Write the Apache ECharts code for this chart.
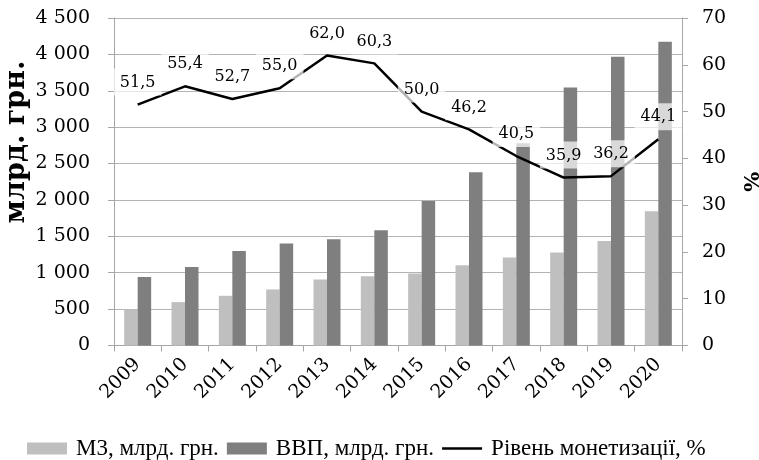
<!DOCTYPE html>
<html>
<head>
<meta charset="utf-8">
<script src="https://cdn.jsdelivr.net/npm/echarts@6/dist/echarts.min.js"></script>
<style>
  html, body { margin: 0; padding: 0; background: #ffffff; }
  #chart { width: 759px; height: 460px; }
</style>
</head>
<body>
<div id="chart"></div>
<script>
// Роки
const years = ['2009', '2010', '2011', '2012', '2013', '2014', '2015', '2016', '2017', '2018', '2019', '2020'];
// Грошова маса М3, млрд. грн.
const m3 = [496, 596, 683, 770, 907, 952, 989, 1103, 1208, 1277, 1436, 1845];
// ВВП, млрд. грн.
const gdp = [942, 1077, 1297, 1400, 1459, 1582, 1984, 2381, 2778, 3545, 3967, 4173];
// Рівень монетизації економіки, %
const monetization = [51.5, 55.4, 52.7, 55.0, 62.0, 60.3, 50.0, 46.2, 40.5, 35.9, 36.2, 44.1];

const seriesNames = ['М3, млрд. грн.', 'ВВП, млрд. грн.', 'Рівень монетизації, %'];
const leftAxisTitle = 'млрд. грн.';
const rightAxisTitle = '%';

const numFont = 'DejaVu Serif';
const textFont = 'Liberation Serif';

// Тисячі відокремлюються пробілом: 4 500
const withSpaces = v => String(v).replace(/\B(?=(\d{3})+(?!\d))/g, ' ');
const commaDecimal = v => v.toFixed(1).replace('.', ',');

const chart = echarts.init(document.getElementById('chart'), null, { renderer: 'canvas' });

chart.setOption({
  backgroundColor: '#ffffff',
  animation: false,
  grid: {
    left: 114, right: 77, top: 18, bottom: 114.5,
    containLabel: false,
    outerBoundsMode: 'none'
  },
  legend: {
    show: true,
    left: 22,
    top: 432,
    itemWidth: 40,
    itemHeight: 12,
    itemGap: 8,
    textStyle: { fontFamily: textFont, fontSize: 23, color: '#000000', padding: [0, 0, 0, 4] },
    data: [
      { name: seriesNames[0], icon: 'rect' },
      { name: seriesNames[1], icon: 'rect' },
      { name: seriesNames[2], icon: 'path://M0,0H40V2.5H0Z' }
    ]
  },
  graphic: [{
    type: 'text',
    x: 17,
    y: 142,
    rotation: Math.PI / 2,
    style: {
      text: leftAxisTitle,
      fontFamily: numFont,
      fontWeight: 'bold',
      fontSize: 27,
      fill: '#000000',
      align: 'center',
      verticalAlign: 'middle'
    }
  }],
  xAxis: {
    type: 'category',
    data: years,
    boundaryGap: true,
    axisLine: { show: true, lineStyle: { color: '#a6a6a6', width: 1 } },
    axisTick: { show: true, length: 6, alignWithLabel: false, lineStyle: { color: '#a6a6a6' } },
    axisLabel: {
      rotate: 45,
      interval: 0,
      margin: 16,
      fontFamily: numFont,
      fontSize: 19,
      color: '#000000'
    },
    splitLine: { show: false }
  },
  yAxis: [
    {
      type: 'value',
      min: 0,
      max: 4500,
      interval: 500,
      position: 'left',
      axisLine: { show: true, lineStyle: { color: '#a6a6a6', width: 1 } },
      axisTick: { show: true, length: 6, lineStyle: { color: '#a6a6a6' } },
      axisLabel: {
        margin: 24,
        fontFamily: numFont,
        fontSize: 19,
        color: '#000000',
        formatter: withSpaces
      },
      splitLine: { show: true, lineStyle: { color: '#b3b3b3', width: 1 } }
    },
    {
      type: 'value',
      min: 0,
      max: 70,
      interval: 10,
      position: 'right',
      name: rightAxisTitle,
      nameLocation: 'middle',
      nameGap: 61,
      nameRotate: 90,
      nameTextStyle: { fontFamily: numFont, fontWeight: 'bold', fontSize: 21, color: '#000000' },
      axisLine: { show: true, lineStyle: { color: '#a6a6a6', width: 1 } },
      axisTick: { show: true, length: 6, lineStyle: { color: '#a6a6a6' } },
      axisLabel: {
        margin: 20,
        fontFamily: numFont,
        fontSize: 19,
        color: '#000000'
      },
      splitLine: { show: false }
    }
  ],
  series: [
    {
      name: seriesNames[0],
      type: 'bar',
      yAxisIndex: 0,
      data: m3,
      barWidth: 13.5,
      barGap: '0%',
      itemStyle: { color: '#bfbfbf' },
      z: 2
    },
    {
      name: seriesNames[1],
      type: 'bar',
      yAxisIndex: 0,
      data: gdp,
      barWidth: 13.5,
      barGap: '0%',
      itemStyle: { color: '#7f7f7f' },
      z: 2
    },
    {
      name: seriesNames[2],
      type: 'line',
      yAxisIndex: 1,
      data: monetization,
      symbol: 'circle',
      symbolSize: 0,
      showSymbol: true,
      lineStyle: { color: '#000000', width: 2.5 },
      itemStyle: { color: '#000000' },
      z: 5,
      label: {
        show: true,
        position: 'top',
        distance: 9,
        fontFamily: numFont,
        fontSize: 16,
        color: '#000000',
        backgroundColor: 'rgba(255,255,255,0.7)',
        padding: [6, 6, 5, 6],
        formatter: p => commaDecimal(p.value)
      },
      labelLayout: { hideOverlap: false }
    }
  ]
});
</script>
</body>
</html>
